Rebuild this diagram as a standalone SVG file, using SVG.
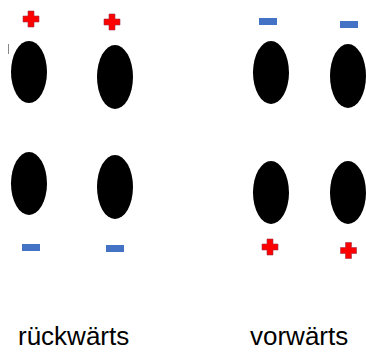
<svg xmlns="http://www.w3.org/2000/svg" width="366" height="352" viewBox="0 0 366 352">
<style>
.e{fill:#000}
.p{fill:#ff0000;stroke:#a0304a;stroke-width:0.6}
.m{fill:#4472c4}
.t{font-family:"Liberation Sans",Arial,sans-serif;font-size:26px;fill:#000}
</style>
<defs>
<path id="plus" d="M-3,-8 H3 V-3 H8 V3 H3 V8 H-3 V3 H-8 V-3 H-3 Z"/>
</defs>
<rect width="366" height="352" fill="#fff"/>
<line x1="8.5" y1="44" x2="8.5" y2="54" stroke="#888" stroke-width="1"/>
<g id="left-top-1"><use href="#plus" class="p" x="31" y="19"/><ellipse class="e" cx="29" cy="72" rx="18" ry="31"/></g>
<g id="left-top-2"><use href="#plus" class="p" x="112" y="22"/><ellipse class="e" cx="115" cy="77" rx="18" ry="32"/></g>
<g id="left-bottom-1"><ellipse class="e" cx="29" cy="183.5" rx="18" ry="31.5"/><rect class="m" x="22" y="244" width="18" height="7"/></g>
<g id="left-bottom-2"><ellipse class="e" cx="115" cy="187" rx="18" ry="32"/><rect class="m" x="106" y="245" width="18" height="7"/></g>
<g id="right-top-1"><rect class="m" x="259" y="18" width="18" height="7"/><ellipse class="e" cx="271" cy="72.5" rx="18" ry="31.5"/></g>
<g id="right-top-2"><rect class="m" x="340" y="21" width="18" height="7"/><ellipse class="e" cx="348" cy="76" rx="18" ry="32"/></g>
<g id="right-bottom-1"><ellipse class="e" cx="271" cy="192.5" rx="18" ry="31.5"/><use href="#plus" class="p" x="270" y="247"/></g>
<g id="right-bottom-2"><ellipse class="e" cx="348" cy="192.5" rx="18" ry="31.5"/><use href="#plus" class="p" x="348.5" y="250.5"/></g>
<g id="labels">
<text class="t" x="18" y="345">rückwärts</text>
<text class="t" x="250" y="345">vorwärts</text>
</g>
<g id="connectors"/>
</svg>
